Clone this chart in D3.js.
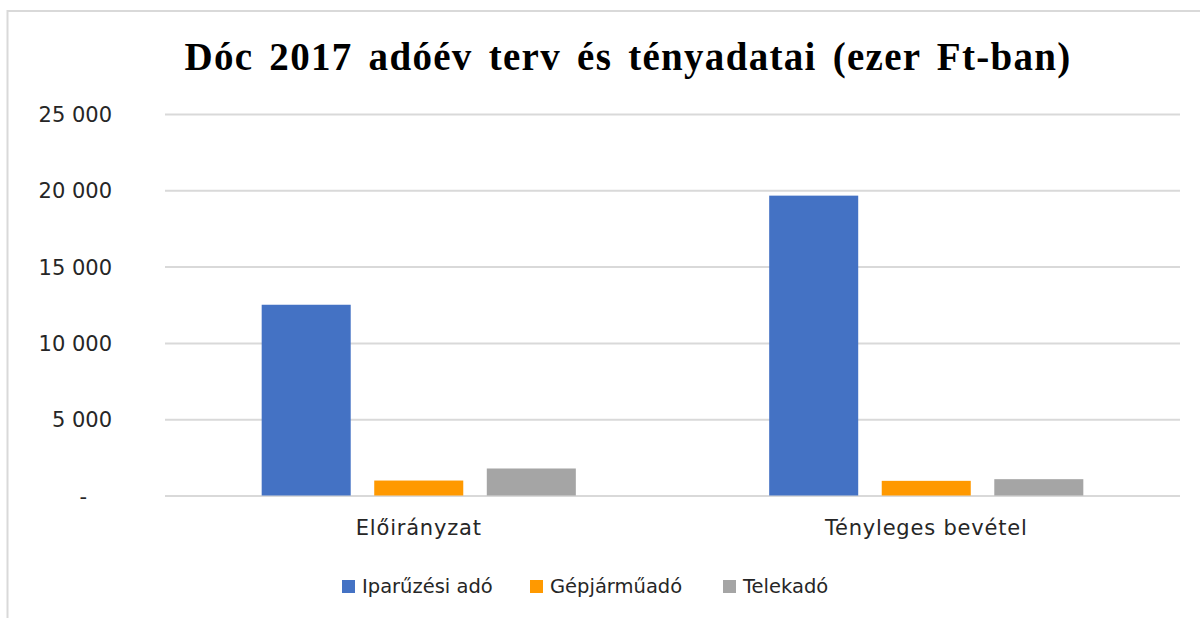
<!DOCTYPE html>
<html>
<head>
<meta charset="utf-8">
<script src="https://cdn.jsdelivr.net/npm/d3@7"></script>
<style>
  body { margin: 0; background: #fff; }
  svg { display: block; }
</style>
</head>
<body>
<div id="chart"></div>
<script>
const categories = ['Előirányzat', 'Tényleges bevétel']
const seriesNames = ['Iparűzési adó', 'Gépjárműadó', 'Telekadó']
const iparuzesi = [12500, 19650]
const gepjarmu = [980, 960]
const telek = [1770, 1070]
const yTicks = [0, 5000, 10000, 15000, 20000, 25000]
const colors = ['#4472C4', '#FF9900', '#A5A5A5']

const W = 1200
const H = 618
const PLOT = { LEFT: 165, RIGHT: 1180, TOP: 114, BOTTOM: 495.5 }
const FONT = '"DejaVu Sans", sans-serif'

const seriesValues = [iparuzesi, gepjarmu, telek]
const rows = []
categories.forEach((c, ci) => {
  seriesNames.forEach((s, si) => {
    rows.push({ cat: c, series: s, value: seriesValues[si][ci] })
  })
})

const svg = d3.select('#chart')
  .append('svg')
    .attr('width', W)
    .attr('height', H)

// frame
svg.append('rect')
  .attr('x', 7.5)
  .attr('y', 11)
  .attr('width', W + 20)
  .attr('height', H + 20)
  .attr('fill', 'none')
  .attr('stroke', '#d9d9d9')
  .attr('stroke-width', 2)

svg.append('text')
  .attr('x', 628)
  .attr('y', 70)
  .attr('text-anchor', 'middle')
  .attr('font-family', '"Liberation Serif", "Times New Roman", serif')
  .attr('font-weight', 'bold')
  .attr('font-size', 39)
  .attr('word-spacing', 5)
  .attr('letter-spacing', 1.3)
  .attr('fill', '#000')
  .text('Dóc 2017 adóév terv és tényadatai (ezer Ft-ban)')

const y = d3.scaleLinear()
  .domain([0, 25000])
  .range([PLOT.BOTTOM, PLOT.TOP])

const x0 = d3.scaleBand()
  .domain(categories)
  .range([PLOT.LEFT, PLOT.RIGHT])
  .paddingInner(0.381)
  .paddingOuter(0.1905)

const x1 = d3.scaleBand()
  .domain(seriesNames)
  .range([0, x0.bandwidth()])
  .paddingInner(0.209)

const color = d3.scaleOrdinal()
  .domain(seriesNames)
  .range(colors)

const fmt = d => d === 0 ? '-' : d3.format(',')(d).replace(/,/g, ' ')

// gridlines + y labels
const yAxisCall = d3.axisLeft(y)
  .tickValues(yTicks)
  .tickSize(-(PLOT.RIGHT - PLOT.LEFT))
  .tickFormat(fmt)
  .tickPadding(53)

const yAxisGroup = svg.append('g')
  .attr('transform', `translate(${PLOT.LEFT}, 0)`)
  .call(yAxisCall)
yAxisGroup.select('.domain').remove()
yAxisGroup.selectAll('line')
  .attr('stroke', '#d9d9d9')
  .attr('stroke-width', 2)
yAxisGroup.selectAll('text')
  .attr('font-family', FONT)
  .attr('font-size', 21)
  .attr('fill', '#262626')
  .attr('dy', '0.36em')
yAxisGroup.selectAll('.tick')
  .filter(d => d === 0)
  .select('text')
  .attr('dx', -25)

// bars
svg.append('g')
  .selectAll('rect')
  .data(rows)
  .enter()
  .append('rect')
    .attr('x', d => x0(d.cat) + x1(d.series))
    .attr('y', d => y(d.value))
    .attr('width', x1.bandwidth())
    .attr('height', d => y(0) - y(d.value))
    .attr('fill', d => color(d.series))

// category labels
const xAxisCall = d3.axisBottom(x0).tickSize(0).tickPadding(25)
const xAxisGroup = svg.append('g')
  .attr('transform', `translate(0, ${PLOT.BOTTOM})`)
  .call(xAxisCall)
xAxisGroup.select('.domain').remove()
xAxisGroup.selectAll('text')
  .attr('font-family', FONT)
  .attr('font-size', 21)
  .attr('letter-spacing', 0.8)
  .attr('fill', '#262626')

// legend
const legendX = [342, 530, 723]
const legend = svg.append('g')
  .selectAll('g')
  .data(seriesNames)
  .enter()
  .append('g')
    .attr('transform', (d, i) => `translate(${legendX[i]}, 580)`)
legend.append('rect')
  .attr('width', 13)
  .attr('height', 13)
  .attr('fill', d => color(d))
legend.append('text')
  .attr('x', 20)
  .attr('y', 13)
  .attr('font-family', FONT)
  .attr('font-size', 19.5)
  .attr('fill', '#262626')
  .text(d => d)
</script>
</body>
</html>
